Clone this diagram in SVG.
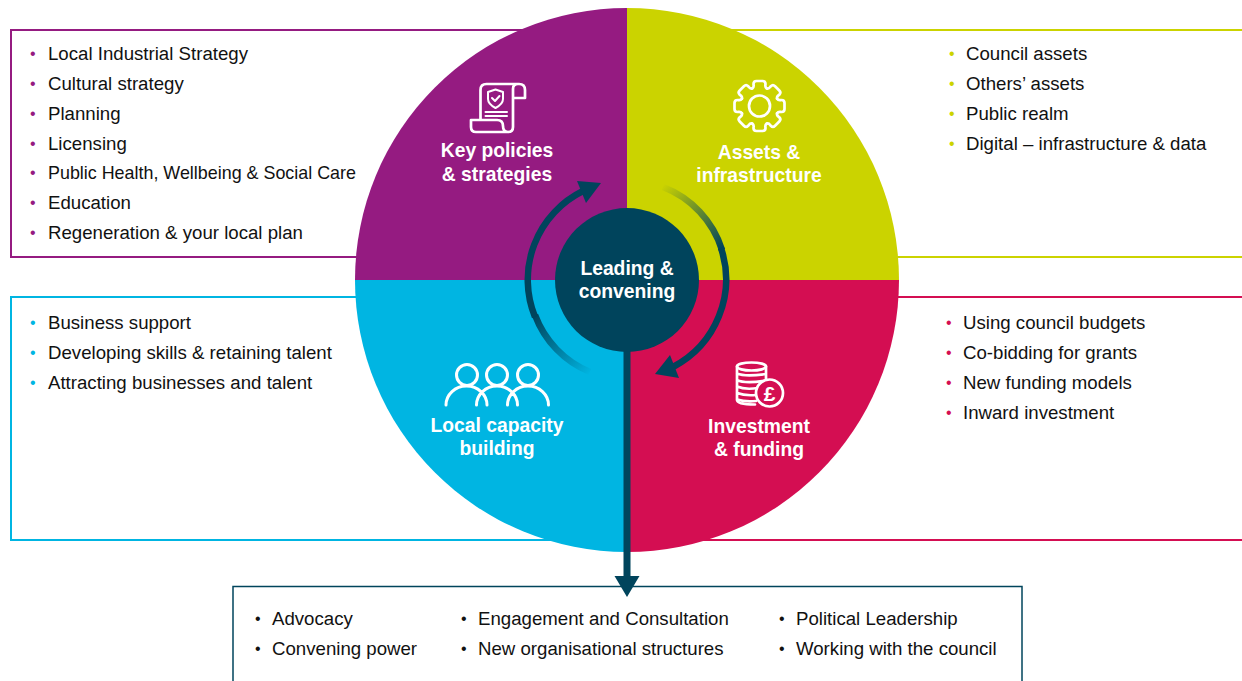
<svg xmlns="http://www.w3.org/2000/svg" width="1242" height="681" viewBox="0 0 1242 681">
<style>
.t{font-family:"Liberation Sans",Arial,sans-serif;font-size:18.65px;fill:#111}
.m{font-size:16px}
.l{font-family:"Liberation Sans",Arial,sans-serif;font-size:19.3px;font-weight:700;fill:#fff;text-anchor:middle}
.i{fill:none;stroke:#fff;stroke-width:2.7;stroke-linecap:round;stroke-linejoin:round}
.p{fill:#951b81}.g{fill:#cbd300}.b{fill:#00b5e2}.c{fill:#d40e52}
.box{fill:none;stroke-width:2}
</style>
<defs>
<linearGradient id="fadeL" gradientUnits="userSpaceOnUse" x1="535" y1="315" x2="592" y2="372"><stop offset="0" stop-color="#00445c"/><stop offset="1" stop-color="#00445c" stop-opacity="0"/></linearGradient>
<linearGradient id="fadeR" gradientUnits="userSpaceOnUse" x1="662" y1="186" x2="722" y2="248"><stop offset="0" stop-color="#00445c" stop-opacity="0"/><stop offset="1" stop-color="#00445c"/></linearGradient>
<path id="tooth" d="M-7.27 -17.55C-5 -19 -6 -21 -6 -22Q-6 -25 -3 -25H3Q6 -25 6 -22C6 -21 5 -19 7.27 -17.55"/>
</defs>
<g id="frames">
<path class="box" stroke="#951b81" d="M560 30H11V257H400"/>
<path class="box" stroke="#cbd300" d="M640 30H1242M860 257H1242"/>
<path class="box" stroke="#00b5e2" d="M400 297H11V540H560"/>
<path class="box" stroke="#d40e52" d="M860 297H1242M700 540H1242"/>
<rect class="box" stroke="#00445c" style="stroke-width:1.5" x="233" y="586.500" width="789" height="110"/>
</g>
<g id="node-policies">
<path class="p" d="M627 280V8A272 272 0 0 0 355 280Z"/>
<g class="i">
<path d="M480.500 120V90Q480.500 84 486.500 84H519Q525 84 525 90V98H513V127Q513 132 508 132H476Q471 132 471 127V120H497Q503 120 503 126Q503 132 508 132M513 98V89Q513 84 518 84"/>
<path style="stroke-width:2" d="M495.500 89.500L503 92V99Q503 104 495.500 108Q488 104 488 99V92Z"/>
<path style="stroke-width:2" d="M492 98L495 101L499.500 96M485.500 112H507M485.500 116H507"/>
</g>
<text class="l" x="497" y="157">Key policies</text><text class="l" x="497" y="181">&amp; strategies</text>
</g>
<g id="node-assets">
<path class="g" d="M627 280V8A272 272 0 0 1 899 280Z"/>
<g class="i" transform="translate(759.500 106)">
<use href="#tooth"/><use href="#tooth" transform="rotate(45)"/><use href="#tooth" transform="rotate(90)"/><use href="#tooth" transform="rotate(135)"/><use href="#tooth" transform="rotate(180)"/><use href="#tooth" transform="rotate(225)"/><use href="#tooth" transform="rotate(270)"/><use href="#tooth" transform="rotate(315)"/>
<circle r="10.500"/>
</g>
<text class="l" x="759" y="159">Assets &amp;</text><text class="l" x="759" y="182">infrastructure</text>
</g>
<g id="node-capacity">
<path class="b" d="M627 280V552A272 272 0 0 1 355 280Z"/>
<g class="i" style="stroke-width:3">
<circle cx="467" cy="375" r="10.500"/><circle cx="497" cy="375" r="10.500"/><circle cx="528" cy="375" r="10.500"/>
<path d="M446 405A20.500 19 0 0 1 487 405M476.500 405A20.500 19 0 0 1 517.500 405M507.500 405A20.500 19 0 0 1 548.500 405"/>
</g>
<text class="l" x="497" y="432">Local capacity</text><text class="l" x="497" y="455">building</text>
</g>
<g id="node-investment">
<path class="c" d="M627 280V552A272 272 0 0 0 899 280Z"/>
<g class="i">
<ellipse cx="751.500" cy="366.500" rx="14.500" ry="4"/>
<path d="M737 366.500V400Q737 404.500 755 404.500M766 366.500V385M737 373.500Q745 377 766 374M737 380Q745 384 766 380.500M737 386.500Q745 390 758 388M737 393Q745 396 756 395M737 399.500Q745 402 756 401"/>
<circle cx="769.500" cy="393" r="13.500" fill="#d40e52"/>
</g>
<text x="769.500" y="400.500" font-family="Liberation Sans,Arial,sans-serif" font-size="21" font-weight="700" fill="#fff" text-anchor="middle">£</text>
<text class="l" x="759" y="433">Investment</text><text class="l" x="759" y="456">&amp; funding</text>
</g>
<g id="connectors">
<path d="M590 372A99 99 0 0 1 535 315" fill="none" stroke="url(#fadeL)" stroke-width="6.500"/>
<path d="M535 317A99 99 0 0 1 583 191" fill="none" stroke="#00445c" stroke-width="6.500"/>
<polygon fill="#00445c" points="601,183 577,181 586,203"/>
<path d="M663 187A99 99 0 0 1 722 250" fill="none" stroke="url(#fadeR)" stroke-width="6.500"/>
<path d="M721 248A99 99 0 0 1 673 367" fill="none" stroke="#00445c" stroke-width="6.500"/>
<polygon fill="#00445c" points="655,374 670,355 679,378"/>
<path d="M627 350V580" stroke="#00445c" stroke-width="7" fill="none"/>
<polygon fill="#00445c" points="614.500,576 639.500,576 627,597"/>
</g>
<g id="node-leading">
<circle cx="627" cy="280" r="72" fill="#00445c"/>
<text class="l" x="627" y="275">Leading &amp;</text><text class="l" x="627" y="298">convening</text>
</g>
<g id="list-policies">
<text class="t" y="60"><tspan class="p m" x="30" dy="-1">•</tspan><tspan x="48" dy="1">Local Industrial Strategy</tspan></text>
<text class="t" y="90"><tspan class="p m" x="30" dy="-1">•</tspan><tspan x="48" dy="1">Cultural strategy</tspan></text>
<text class="t" y="120"><tspan class="p m" x="30" dy="-1">•</tspan><tspan x="48" dy="1">Planning</tspan></text>
<text class="t" y="150"><tspan class="p m" x="30" dy="-1">•</tspan><tspan x="48" dy="1">Licensing</tspan></text>
<text class="t" y="179"><tspan class="p m" x="30" dy="-1">•</tspan><tspan x="48" dy="1" style="font-size:17.9px">Public Health, Wellbeing &amp; Social Care</tspan></text>
<text class="t" y="209"><tspan class="p m" x="30" dy="-1">•</tspan><tspan x="48" dy="1">Education</tspan></text>
<text class="t" y="239"><tspan class="p m" x="30" dy="-1">•</tspan><tspan x="48" dy="1">Regeneration &amp; your local plan</tspan></text>
</g>
<g id="list-assets">
<text class="t" y="60"><tspan class="g m" x="949" dy="-1">•</tspan><tspan x="966" dy="1">Council assets</tspan></text>
<text class="t" y="90"><tspan class="g m" x="949" dy="-1">•</tspan><tspan x="966" dy="1">Others’ assets</tspan></text>
<text class="t" y="120"><tspan class="g m" x="949" dy="-1">•</tspan><tspan x="966" dy="1">Public realm</tspan></text>
<text class="t" y="150"><tspan class="g m" x="949" dy="-1">•</tspan><tspan x="966" dy="1">Digital – infrastructure &amp; data</tspan></text>
</g>
<g id="list-capacity">
<text class="t" y="329"><tspan class="b m" x="30" dy="-1">•</tspan><tspan x="48" dy="1">Business support</tspan></text>
<text class="t" y="359"><tspan class="b m" x="30" dy="-1">•</tspan><tspan x="48" dy="1">Developing skills &amp; retaining talent</tspan></text>
<text class="t" y="389"><tspan class="b m" x="30" dy="-1">•</tspan><tspan x="48" dy="1">Attracting businesses and talent</tspan></text>
</g>
<g id="list-investment">
<text class="t" y="329"><tspan class="c m" x="946" dy="-1">•</tspan><tspan x="963" dy="1">Using council budgets</tspan></text>
<text class="t" y="359"><tspan class="c m" x="946" dy="-1">•</tspan><tspan x="963" dy="1">Co-bidding for grants</tspan></text>
<text class="t" y="389"><tspan class="c m" x="946" dy="-1">•</tspan><tspan x="963" dy="1">New funding models</tspan></text>
<text class="t" y="419"><tspan class="c m" x="946" dy="-1">•</tspan><tspan x="963" dy="1">Inward investment</tspan></text>
</g>
<g id="list-leading">
<text class="t" y="625"><tspan class="m" x="255" dy="-1">•</tspan><tspan x="272" dy="1">Advocacy</tspan></text>
<text class="t" y="655"><tspan class="m" x="255" dy="-1">•</tspan><tspan x="272" dy="1">Convening power</tspan></text>
<text class="t" y="625"><tspan class="m" x="461" dy="-1">•</tspan><tspan x="478" dy="1">Engagement and Consultation</tspan></text>
<text class="t" y="655"><tspan class="m" x="461" dy="-1">•</tspan><tspan x="478" dy="1">New organisational structures</tspan></text>
<text class="t" y="625"><tspan class="m" x="779" dy="-1">•</tspan><tspan x="796" dy="1">Political Leadership</tspan></text>
<text class="t" y="655"><tspan class="m" x="779" dy="-1">•</tspan><tspan x="796" dy="1">Working with the council</tspan></text>
</g>
</svg>
